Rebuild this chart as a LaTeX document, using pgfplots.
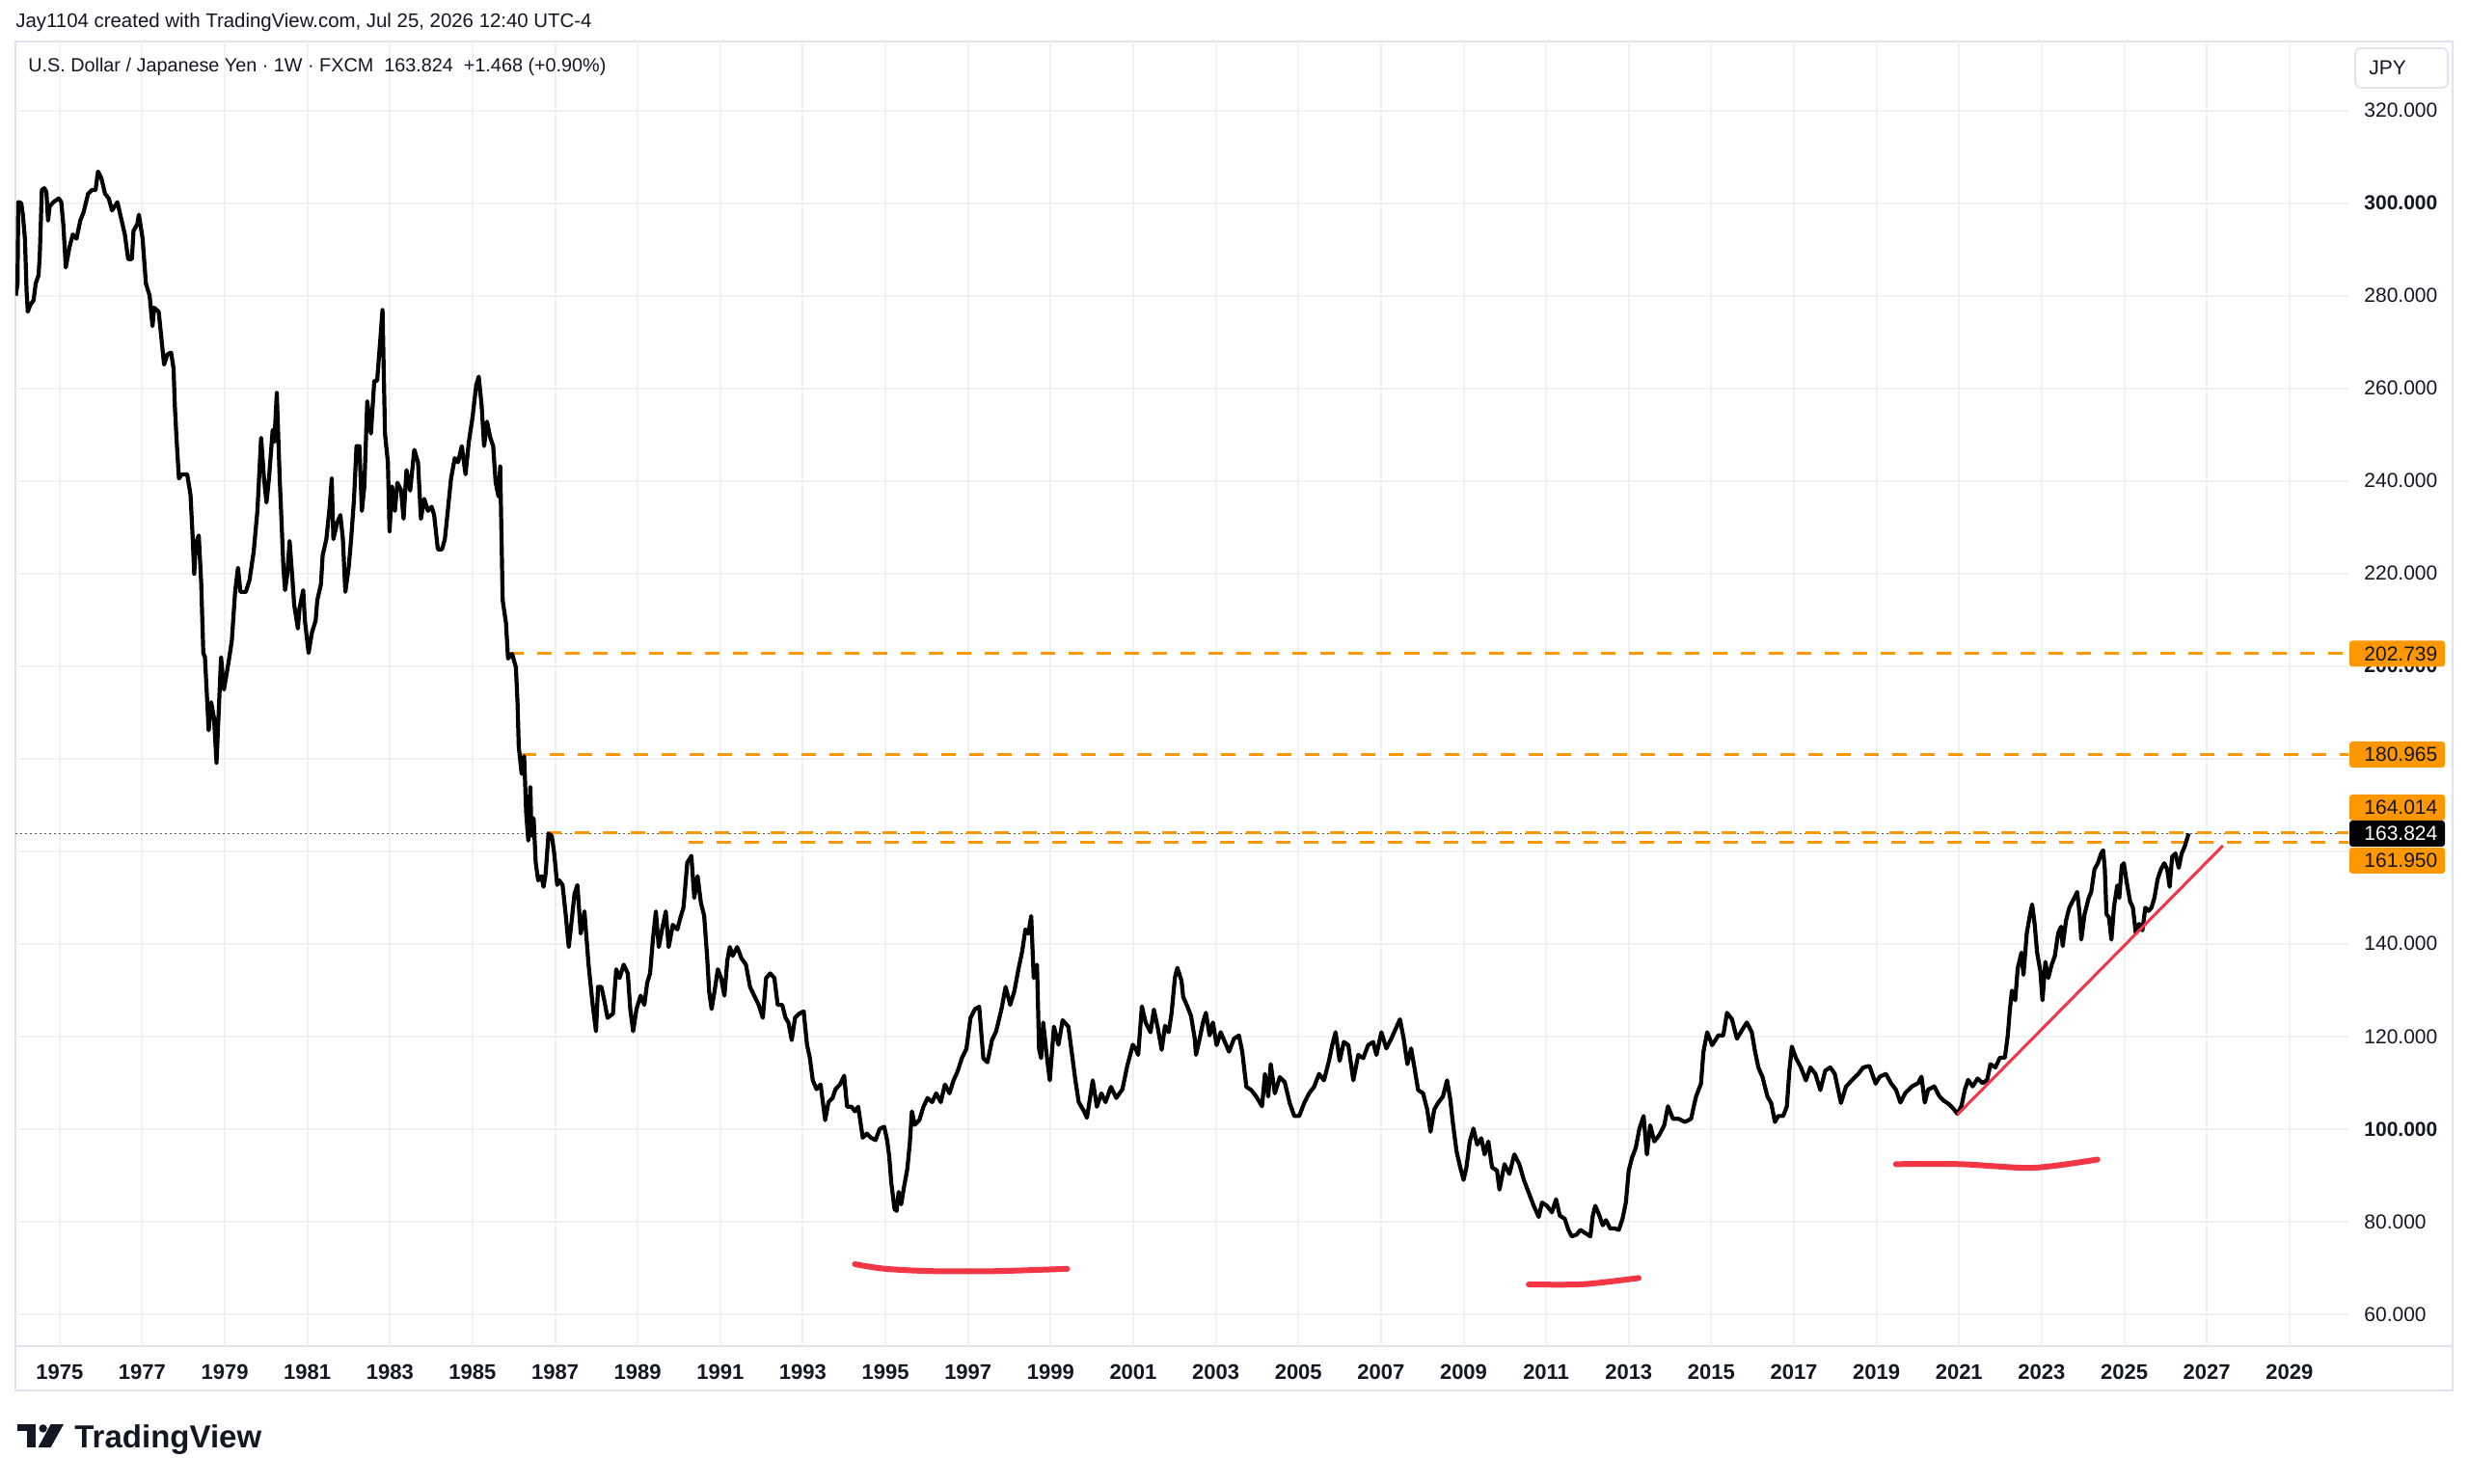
\documentclass[border=0pt]{standalone}
\usepackage{fontspec}
\setmainfont{Liberation Sans}
\usepackage{pgfplots}
\pgfplotsset{compat=1.18}
\definecolor{tvorange}{HTML}{FF9800}
\definecolor{tvred}{HTML}{F23645}
\definecolor{tvtext}{HTML}{131722}
\definecolor{tvgrid}{HTML}{F0F1F3}
\definecolor{tvframe}{HTML}{E0E3EB}
\begin{document}
\begin{tikzpicture}[x=1pt,y=1pt]
\useasboundingbox[fill=white] (0,0) rectangle (1280,769);
\draw[tvframe, line width=1pt] (8,48) rectangle (1271.5,747.5);
\draw[tvframe, line width=1pt] (8,71) -- (1271.5,71);
\begin{axis}[
  at={(8pt,71pt)}, anchor=south west,
  scale only axis, width=1209.5pt, height=676.5pt,
  xmin=1973.93, xmax=2030.43, ymin=53.1, ymax=334.9,
  axis line style={draw=none},
  major tick length=0pt,
  grid=major, major grid style={tvgrid, line width=1pt},
  xtick={1975,1977,...,2029},
  xticklabels={1975,1977,1979,1981,1983,1985,1987,1989,1991,1993,1995,1997,1999,2001,2003,2005,2007,2009,2011,2013,2015,2017,2019,2021,2023,2025,2027,2029},
  xticklabel style={font=\fontsize{11}{13}\selectfont\bfseries, text=tvtext, anchor=base, yshift=-17pt, inner sep=0pt},
  ytick={60,80,...,320},
  yticklabels={60.000,80.000,\textbf{100.000},120.000,140.000,{},{},\textbf{200.000},220.000,240.000,260.000,280.000,\textbf{300.000},320.000},
  yticklabel pos=right,
  yticklabel style={font=\fontsize{10.5}{12}\selectfont, text=tvtext, anchor=west, xshift=8pt, inner sep=0pt},
]
% current price dotted line
\addplot[color=black!65, line width=0.5pt, dash pattern=on 1pt off 1.5pt] coordinates {(1973.93,163.824) (2030.43,163.824)};
% orange levels
\addplot[tvorange, line width=1.5pt, dash pattern=on 7.5pt off 7pt] coordinates {(1985.9,202.739) (2030.43,202.739)};
\addplot[tvorange, line width=1.5pt, dash pattern=on 7.5pt off 7pt] coordinates {(1986.19,180.965) (2030.43,180.965)};
\addplot[tvorange, line width=1.5pt, dash pattern=on 7.5pt off 7pt] coordinates {(1986.79,164.014) (2030.43,164.014)};
\addplot[tvorange, line width=1.5pt, dash pattern=on 7.5pt off 7pt] coordinates {(1990.24,161.950) (2030.43,161.950)};
% price
\addplot[black, line width=2.1pt, line join=round] coordinates {
(1973.94,280.0) (1973.98,282.6) (1974.00,300.2) (1974.07,300.0) (1974.11,297.5) (1974.16,292.3) (1974.20,281.0) (1974.23,276.5) (1974.29,278.0) (1974.37,279.0) (1974.42,282.6) (1974.49,284.4) (1974.52,288.8) (1974.57,302.8) (1974.63,303.2) (1974.68,302.4) (1974.72,296.2) (1974.76,299.3) (1974.85,300.2) (1974.98,301.0) (1975.04,300.2) (1975.09,295.4) (1975.15,286.1) (1975.24,290.5) (1975.32,293.2) (1975.41,292.3) (1975.50,296.2) (1975.58,298.0) (1975.69,302.0) (1975.78,302.8) (1975.87,302.8) (1975.93,306.8) (1976.01,305.4) (1976.10,302.0) (1976.19,301.0) (1976.27,298.4) (1976.40,300.2) (1976.49,296.7) (1976.58,293.2) (1976.66,287.9) (1976.75,287.9) (1976.79,294.0) (1976.88,295.4) (1976.92,297.5) (1977.01,292.3) (1977.09,282.6) (1977.18,280.0) (1977.25,273.4) (1977.29,277.4) (1977.40,276.5) (1977.44,273.0) (1977.53,265.1) (1977.61,267.3) (1977.70,267.7) (1977.76,264.2) (1977.79,256.3) (1977.83,249.3) (1977.89,240.5) (1977.96,241.4) (1978.09,241.4) (1978.17,237.0) (1978.22,228.2) (1978.26,219.9) (1978.30,226.5) (1978.37,228.2) (1978.43,217.7) (1978.48,202.8) (1978.52,201.9) (1978.61,186.1) (1978.67,192.2) (1978.74,188.7) (1978.80,179.1) (1978.91,201.9) (1978.98,194.9) (1979.08,200.2) (1979.17,205.4) (1979.25,216.0) (1979.32,221.2) (1979.38,216.0) (1979.51,216.0) (1979.60,218.6) (1979.70,224.7) (1979.79,233.5) (1979.88,249.3) (1979.95,240.5) (1980.01,235.3) (1980.07,240.5) (1980.16,251.0) (1980.20,248.4) (1980.26,259.0) (1980.33,240.5) (1980.38,230.0) (1980.42,221.2) (1980.46,216.4) (1980.51,219.5) (1980.57,227.0) (1980.64,218.6) (1980.68,213.3) (1980.77,208.1) (1980.81,212.5) (1980.90,216.4) (1980.94,209.8) (1981.03,202.8) (1981.11,207.2) (1981.20,209.8) (1981.24,214.2) (1981.33,217.7) (1981.37,223.9) (1981.46,227.4) (1981.54,234.4) (1981.59,240.5) (1981.63,227.4) (1981.72,230.9) (1981.80,232.6) (1981.86,227.4) (1981.92,216.0) (1982.00,221.2) (1982.06,227.4) (1982.13,236.1) (1982.19,247.5) (1982.26,247.5) (1982.32,233.5) (1982.38,238.8) (1982.45,257.2) (1982.54,250.2) (1982.62,261.6) (1982.69,261.6) (1982.75,268.6) (1982.82,276.9) (1982.88,250.2) (1982.95,244.0) (1982.99,229.1) (1983.05,238.8) (1983.12,233.5) (1983.18,239.6) (1983.27,237.9) (1983.33,231.8) (1983.40,242.3) (1983.49,237.9) (1983.59,246.7) (1983.68,244.0) (1983.75,231.8) (1983.83,236.1) (1983.92,233.5) (1984.01,234.4) (1984.07,232.6) (1984.16,225.2) (1984.26,225.2) (1984.33,227.4) (1984.39,232.6) (1984.48,240.5) (1984.57,244.9) (1984.65,244.0) (1984.74,247.5) (1984.83,241.4) (1984.91,248.4) (1985.00,253.7) (1985.09,260.7) (1985.15,262.5) (1985.22,256.3) (1985.28,247.5) (1985.35,252.8) (1985.43,249.3) (1985.50,247.5) (1985.56,239.6) (1985.63,236.6) (1985.67,243.1) (1985.73,214.2)
(1985.81,209.3) (1985.86,201.6) (1985.96,202.6) (1986.05,199.7) (1986.09,192.0) (1986.12,182.5) (1986.19,176.7) (1986.25,180.5) (1986.30,168.1) (1986.35,162.3) (1986.40,173.8) (1986.43,163.3) (1986.48,167.1) (1986.53,157.5) (1986.59,153.7) (1986.67,154.6) (1986.72,152.3) (1986.77,155.1) (1986.84,163.8) (1986.92,163.3) (1986.98,159.4) (1987.05,152.7) (1987.10,153.7) (1987.18,152.7) (1987.26,146.0) (1987.33,139.3) (1987.39,144.1) (1987.47,150.8) (1987.54,152.7) (1987.62,142.2) (1987.71,147.0) (1987.81,135.5) (1987.91,126.8) (1987.99,121.1) (1988.04,130.7) (1988.12,130.7) (1988.19,127.8) (1988.27,124.0) (1988.40,124.9) (1988.48,134.5) (1988.56,132.6) (1988.66,135.5) (1988.76,133.6) (1988.82,125.9) (1988.89,121.1) (1988.97,125.9) (1989.07,128.8) (1989.16,126.8) (1989.23,131.6) (1989.30,133.6) (1989.37,141.2) (1989.44,147.0) (1989.51,139.3) (1989.59,143.1) (1989.68,147.0) (1989.75,139.3) (1989.85,144.1) (1989.96,143.1) (1990.03,145.5) (1990.11,147.9) (1990.20,157.5) (1990.30,159.0) (1990.37,149.9) (1990.45,154.6) (1990.53,148.9) (1990.61,146.0) (1990.68,137.4) (1990.73,129.7) (1990.79,125.9) (1990.86,129.7) (1990.94,134.5) (1991.02,132.6) (1991.10,128.8) (1991.17,136.4) (1991.23,139.3) (1991.30,137.4) (1991.41,139.3) (1991.51,136.9) (1991.62,135.5) (1991.72,130.7) (1991.82,128.8) (1991.93,126.8) (1992.03,124.0) (1992.11,132.6) (1992.21,133.6) (1992.31,132.6) (1992.39,126.8) (1992.50,126.8) (1992.58,124.0) (1992.65,123.0) (1992.73,119.2) (1992.81,124.0) (1992.91,124.9) (1993.02,125.4) (1993.10,118.2) (1993.17,115.3) (1993.24,110.5) (1993.33,108.6) (1993.43,109.6) (1993.54,101.9) (1993.62,105.8) (1993.72,106.7) (1993.79,108.6) (1993.90,109.6) (1994.00,111.5) (1994.07,104.8) (1994.18,104.8) (1994.26,103.8) (1994.34,104.8) (1994.45,98.1) (1994.55,99.0) (1994.65,98.1) (1994.76,97.6) (1994.86,100.0) (1994.97,100.5) (1995.04,97.6) (1995.09,94.2) (1995.14,88.5) (1995.22,82.7) (1995.27,82.3) (1995.32,86.4) (1995.38,83.7) (1995.45,87.5) (1995.53,91.4) (1995.59,97.0) (1995.64,103.8) (1995.71,100.9) (1995.82,101.9) (1995.92,104.8) (1996.02,106.7) (1996.13,105.8) (1996.23,107.7) (1996.34,105.8) (1996.44,109.6) (1996.55,107.7) (1996.65,110.5) (1996.75,112.5) (1996.85,115.3) (1996.96,117.3) (1997.06,124.0) (1997.17,125.9) (1997.27,126.4) (1997.37,115.3) (1997.47,114.4) (1997.58,119.2) (1997.68,121.1) (1997.81,125.9) (1997.91,130.7) (1998.02,126.8) (1998.12,129.7) (1998.22,134.5) (1998.31,138.3) (1998.39,143.1) (1998.46,142.2) (1998.53,146.0) (1998.59,132.6) (1998.67,135.5) (1998.72,117.3) (1998.77,115.3) (1998.82,123.0) (1998.90,116.3) (1998.98,110.5) (1999.08,122.1) (1999.19,118.2) (1999.29,123.5) (1999.43,122.1) (1999.53,115.3) (1999.60,110.5) (1999.68,105.8) (1999.81,103.8) (1999.88,102.4) (2000.02,110.5) (2000.12,104.8) (2000.23,107.7) (2000.33,105.8) (2000.46,109.1) (2000.59,106.7) (2000.74,108.6) (2000.85,113.4) (2000.99,118.2) (2001.06,117.3)
(2001.12,116.0) (2001.21,126.5) (2001.30,123.0) (2001.42,120.9) (2001.50,125.8) (2001.60,121.6) (2001.69,117.1) (2001.77,122.3) (2001.86,120.9) (2001.93,125.1) (2002.01,132.7) (2002.07,134.8) (2002.17,132.0) (2002.21,128.5) (2002.31,126.5) (2002.40,124.4) (2002.49,119.5) (2002.52,116.0) (2002.61,119.5) (2002.69,123.0) (2002.76,125.1) (2002.85,120.2) (2002.93,123.0) (2003.02,118.1) (2003.12,120.9) (2003.20,119.2) (2003.32,116.7) (2003.44,119.5) (2003.56,120.2) (2003.64,116.7) (2003.74,109.1) (2003.86,108.4) (2003.98,107.0) (2004.12,104.9) (2004.19,111.9) (2004.27,107.0) (2004.33,114.0) (2004.43,107.7) (2004.55,111.2) (2004.67,110.1) (2004.79,105.6) (2004.90,102.8) (2005.02,102.8) (2005.14,105.6) (2005.26,107.7) (2005.38,109.1) (2005.50,111.9) (2005.62,110.5) (2005.74,114.7) (2005.82,118.1) (2005.90,120.9) (2006.00,114.7) (2006.10,118.8) (2006.21,118.1) (2006.33,110.5) (2006.45,116.0) (2006.57,115.3) (2006.69,118.1) (2006.81,118.8) (2006.89,116.0) (2007.01,120.9) (2007.13,117.4) (2007.25,119.5) (2007.37,121.9) (2007.46,123.7) (2007.55,119.5) (2007.64,114.0) (2007.73,117.4) (2007.81,113.3) (2007.90,108.4) (2008.02,107.7) (2008.12,104.2) (2008.20,99.4) (2008.29,104.2) (2008.38,105.6) (2008.50,107.0) (2008.60,110.5) (2008.68,106.3) (2008.74,101.4) (2008.83,95.2) (2008.92,91.7) (2009.00,89.0) (2009.07,91.7) (2009.15,97.3) (2009.24,100.1) (2009.33,96.6) (2009.43,98.0) (2009.51,94.5) (2009.60,97.3) (2009.69,91.7) (2009.81,91.0) (2009.87,86.9) (2009.99,92.4) (2010.11,90.3) (2010.23,94.5) (2010.35,92.4) (2010.46,89.0) (2010.58,86.2) (2010.70,83.4) (2010.82,81.0) (2010.90,84.1) (2011.02,83.4) (2011.14,82.0) (2011.24,84.8) (2011.33,81.3) (2011.45,80.6) (2011.54,78.2) (2011.62,76.8) (2011.74,77.2) (2011.83,78.2) (2011.95,77.5) (2012.07,76.8) (2012.13,81.3) (2012.19,83.4) (2012.29,81.3) (2012.37,79.2) (2012.45,80.3) (2012.55,78.5) (2012.67,78.5) (2012.76,78.2) (2012.85,80.6) (2012.93,84.1) (2013.00,91.0) (2013.08,93.8) (2013.17,95.9) (2013.26,100.1) (2013.36,102.8) (2013.44,94.5) (2013.52,100.8) (2013.62,97.3) (2013.74,98.7) (2013.86,100.8) (2013.95,104.9) (2014.07,102.2) (2014.21,102.2) (2014.36,101.5) (2014.51,102.2) (2014.63,107.0) (2014.75,109.8) (2014.81,116.7) (2014.90,120.9) (2015.02,118.1) (2015.17,120.2) (2015.29,120.2) (2015.38,125.1) (2015.50,123.7) (2015.62,119.5) (2015.76,121.6) (2015.86,123.0) (2015.98,120.9) (2016.06,116.7) (2016.14,113.3) (2016.24,111.2) (2016.36,107.0) (2016.45,105.6) (2016.54,101.5) (2016.62,102.8) (2016.74,102.8) (2016.83,104.9) (2016.89,112.6) (2016.95,117.8) (2017.05,115.3) (2017.17,113.3) (2017.29,110.5) (2017.40,113.3) (2017.52,111.9) (2017.64,108.4) (2017.76,112.6) (2017.88,113.3) (2017.99,111.9) (2018.14,105.6) (2018.26,109.1) (2018.40,110.5) (2018.56,111.9) (2018.68,113.3) (2018.83,113.6) (2018.98,109.8)
(2019.08,111.3) (2019.23,111.9) (2019.35,109.9) (2019.47,108.5) (2019.58,105.7) (2019.70,107.8) (2019.86,109.2) (2020.01,109.9) (2020.09,111.3) (2020.17,105.7) (2020.25,108.5) (2020.40,109.2) (2020.52,107.1) (2020.63,106.1) (2020.75,105.4) (2020.87,104.3) (2020.96,103.3) (2021.06,105.0) (2021.14,108.5) (2021.22,110.6) (2021.33,109.2) (2021.45,110.9) (2021.57,109.9) (2021.68,110.6) (2021.76,114.0) (2021.88,113.3) (2021.99,115.4) (2022.11,115.4) (2022.18,120.2) (2022.23,125.7) (2022.28,129.9) (2022.36,127.8) (2022.42,134.7) (2022.51,138.1) (2022.56,133.3) (2022.64,142.3) (2022.72,146.4) (2022.77,148.5) (2022.83,144.3) (2022.89,138.1) (2022.97,134.0) (2023.02,127.8) (2023.09,136.1) (2023.16,132.6) (2023.24,135.4) (2023.32,137.4) (2023.40,142.3) (2023.47,143.7) (2023.51,139.5) (2023.59,145.0) (2023.67,147.8) (2023.79,149.9) (2023.86,151.2) (2023.92,146.4) (2023.96,140.9) (2024.04,146.4) (2024.14,149.9) (2024.20,151.2) (2024.28,156.1) (2024.36,157.4) (2024.44,159.5) (2024.49,160.2) (2024.53,156.1) (2024.57,146.4) (2024.63,145.7) (2024.69,140.9) (2024.75,147.8) (2024.83,152.6) (2024.88,149.9) (2024.94,156.8) (2024.99,157.4) (2025.06,153.3) (2025.14,149.2) (2025.21,147.8) (2025.28,142.3) (2025.36,144.3) (2025.44,142.9) (2025.51,147.8) (2025.59,147.1) (2025.66,147.8) (2025.73,149.9) (2025.81,154.0) (2025.89,156.1) (2025.97,157.4) (2026.04,156.1) (2026.10,152.3) (2026.16,158.8) (2026.24,159.5) (2026.32,156.4) (2026.39,159.5) (2026.46,160.9) (2026.51,162.3) (2026.56,163.824)
};
% red trendline
\addplot[tvred, line width=1.5pt] coordinates {(2020.96,103.1) (2027.39,161.2)};
% red hand-drawn marks
\addplot[tvred, line width=3pt, line cap=round, smooth] coordinates {(1994.26,70.8) (1994.99,69.8) (1996.13,69.3) (1997.68,69.3) (1999.40,69.8)};
\addplot[tvred, line width=3pt, line cap=round, smooth] coordinates {(2010.58,66.4) (2011.71,66.4) (2012.31,66.8) (2013.24,67.8)};
\addplot[tvred, line width=3pt, line cap=round, smooth] coordinates {(2019.47,92.4) (2021.02,92.4) (2022.58,91.6) (2023.36,92.1) (2024.35,93.4)};
\end{axis}
% price labels
\fill[tvorange, rounded corners=1.5pt] (1218,423.25) rectangle (1267.5,436.75);
\node[anchor=west, inner sep=0pt, font=\fontsize{10.5}{12}\selectfont, text=tvtext] at (1225.5,430) {202.739};
\fill[tvorange, rounded corners=1.5pt] (1218,371) rectangle (1267.5,384.5);
\node[anchor=west, inner sep=0pt, font=\fontsize{10.5}{12}\selectfont, text=tvtext] at (1225.5,377.75) {180.965};
\fill[tvorange, rounded corners=1.5pt] (1218,343.5) rectangle (1267.5,357);
\node[anchor=west, inner sep=0pt, font=\fontsize{10.5}{12}\selectfont, text=tvtext] at (1225.5,350.25) {164.014};
\fill[tvorange, rounded corners=1.5pt] (1218,316) rectangle (1267.5,329.5);
\node[anchor=west, inner sep=0pt, font=\fontsize{10.5}{12}\selectfont, text=tvtext] at (1225.5,322.75) {161.950};
\fill[black, rounded corners=1.5pt] (1218,330) rectangle (1267.5,343.5);
\node[anchor=west, inner sep=0pt, font=\fontsize{10.5}{12}\selectfont, text=white] at (1225.5,336.75) {163.824};
% JPY box
\draw[tvframe, line width=0.8pt, rounded corners=3pt] (1221,723.5) rectangle (1269,744);
\node[anchor=west, inner sep=0pt, font=\fontsize{10.5}{12}\selectfont, text=tvtext] at (1228,734) {JPY};
% header and title
\node[anchor=west, inner sep=0pt, font=\fontsize{10.2}{12}\selectfont, text=tvtext] at (8,757.5) {Jay1104 created with TradingView.com, Jul 25, 2026 12:40 UTC-4};
\node[anchor=west, inner sep=0pt, font=\fontsize{9.9}{11}\selectfont, text=tvtext] at (14.5,734.5) {U.S. Dollar / Japanese Yen · 1W · FXCM\ \ 163.824\ \ +1.468 (+0.90\%)};
% logo
\fill[tvtext] (9,30.5) rectangle (18.5,27);
\fill[tvtext] (14,30.5) rectangle (18.5,18.5);
\fill[tvtext] (22.3,28.3) circle (2.1);
\fill[tvtext] (26.3,30.5) -- (33,30.5) -- (26.3,18.5) -- (19.8,18.5) -- cycle;
\node[anchor=base west, inner sep=0pt, font=\fontsize{16.5}{18}\selectfont\bfseries, text=tvtext] at (38.5,18.5) {TradingView};
\end{tikzpicture}
\end{document}
